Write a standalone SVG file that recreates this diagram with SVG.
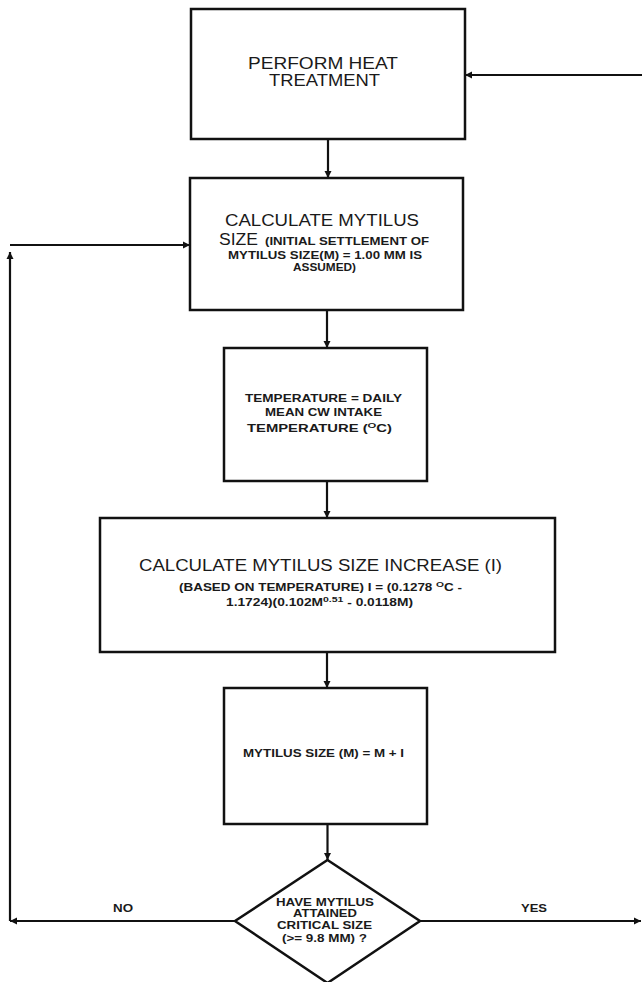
<svg xmlns="http://www.w3.org/2000/svg" width="642" height="982" viewBox="0 0 642 982">
<defs>
<style>
.box{fill:none;stroke:#111;stroke-width:2.5}
.ln{fill:none;stroke:#111;stroke-width:2.2}
.big{font-family:"Liberation Sans",Arial,sans-serif;font-size:16px;fill:#1a1a1a}
.sm{font-family:"Liberation Sans",Arial,sans-serif;font-size:10.5px;font-weight:bold;fill:#1a1a1a}
</style>
<marker id="ah" viewBox="0 0 10 10" refX="10" refY="5" markerWidth="3.2" markerHeight="3.2" orient="auto" markerUnits="strokeWidth">
<path d="M0,0 L10,5 L0,10 z" fill="#111"/>
</marker>
</defs>
<rect width="642" height="982" fill="#fff"/>

<g id="n1">
<rect class="box" x="191" y="9" width="274" height="130"/>
<text class="big" x="248" y="69" textLength="150" lengthAdjust="spacingAndGlyphs">PERFORM HEAT</text>
<text class="big" x="269" y="86" textLength="111" lengthAdjust="spacingAndGlyphs">TREATMENT</text>
</g>

<g id="n2">
<rect class="box" x="190" y="178" width="273" height="132"/>
<text class="big" x="225" y="226" textLength="194" lengthAdjust="spacingAndGlyphs">CALCULATE MYTILUS</text>
<text class="big" x="219" y="245" textLength="39" lengthAdjust="spacingAndGlyphs">SIZE</text>
<text class="sm" x="265" y="245" textLength="164" lengthAdjust="spacingAndGlyphs">(INITIAL SETTLEMENT OF</text>
<text class="sm" x="228" y="259" textLength="194" lengthAdjust="spacingAndGlyphs">MYTILUS SIZE(M) = 1.00 MM IS</text>
<text class="sm" x="293" y="271" textLength="63" lengthAdjust="spacingAndGlyphs">ASSUMED)</text>
</g>

<g id="n3">
<rect class="box" x="224" y="348" width="203" height="133"/>
<text class="sm" x="245" y="402" textLength="157" lengthAdjust="spacingAndGlyphs">TEMPERATURE = DAILY</text>
<text class="sm" x="265" y="416" textLength="117" lengthAdjust="spacingAndGlyphs">MEAN CW INTAKE</text>
<text class="sm" x="247" y="432" textLength="145" lengthAdjust="spacingAndGlyphs">TEMPERATURE (<tspan font-size="8" dy="-4">O</tspan><tspan dy="4">C)</tspan></text>
</g>

<g id="n4">
<rect class="box" x="100" y="518" width="455" height="134"/>
<text class="big" x="139" y="571" font-size="17" textLength="363" lengthAdjust="spacingAndGlyphs">CALCULATE MYTILUS SIZE INCREASE (I)</text>
<text class="sm" x="179" y="591" textLength="283" lengthAdjust="spacingAndGlyphs">(BASED ON TEMPERATURE) I = (0.1278 <tspan font-size="8" dy="-4">O</tspan><tspan dy="4">C -</tspan></text>
<text class="sm" x="226" y="606" textLength="187" lengthAdjust="spacingAndGlyphs">1.1724)(0.102M<tspan font-size="8" dy="-4">0.51</tspan><tspan dy="4"> - 0.0118M)</tspan></text>
</g>

<g id="n5">
<rect class="box" x="224" y="688" width="203" height="136"/>
<text class="sm" x="243" y="757" textLength="161" lengthAdjust="spacingAndGlyphs">MYTILUS SIZE (M) = M + I</text>
</g>

<g id="n6">
<polygon class="box" points="327.5,860 420,921 327.5,983 235,921"/>
<text class="sm" x="276" y="906" textLength="98" lengthAdjust="spacingAndGlyphs">HAVE MYTILUS</text>
<text class="sm" x="293" y="917" textLength="64" lengthAdjust="spacingAndGlyphs">ATTAINED</text>
<text class="sm" x="277" y="929" textLength="95" lengthAdjust="spacingAndGlyphs">CRITICAL SIZE</text>
<text class="sm" x="282" y="942" textLength="85" lengthAdjust="spacingAndGlyphs">(&gt;= 9.8 MM) ?</text>
</g>

<g id="connectors">
<line class="ln" x1="328" y1="139" x2="328" y2="178" marker-end="url(#ah)"/>
<line class="ln" x1="327" y1="310" x2="327" y2="348" marker-end="url(#ah)"/>
<line class="ln" x1="327" y1="481" x2="327" y2="518" marker-end="url(#ah)"/>
<line class="ln" x1="327" y1="652" x2="327" y2="688" marker-end="url(#ah)"/>
<line class="ln" x1="327.5" y1="824" x2="327.5" y2="860" marker-end="url(#ah)"/>
<line class="ln" x1="235" y1="921" x2="10" y2="921" marker-end="url(#ah)"/>
<line class="ln" x1="10" y1="921" x2="10" y2="252" marker-end="url(#ah)"/>
<line class="ln" x1="10" y1="245" x2="190" y2="245" marker-end="url(#ah)"/>
<line class="ln" x1="420" y1="921" x2="641" y2="921" marker-end="url(#ah)"/>
<line class="ln" x1="642" y1="75" x2="465" y2="75" marker-end="url(#ah)"/>
<text class="sm" x="113" y="912" textLength="20" lengthAdjust="spacingAndGlyphs">NO</text>
<text class="sm" x="521" y="912" textLength="26" lengthAdjust="spacingAndGlyphs">YES</text>
</g>
</svg>
